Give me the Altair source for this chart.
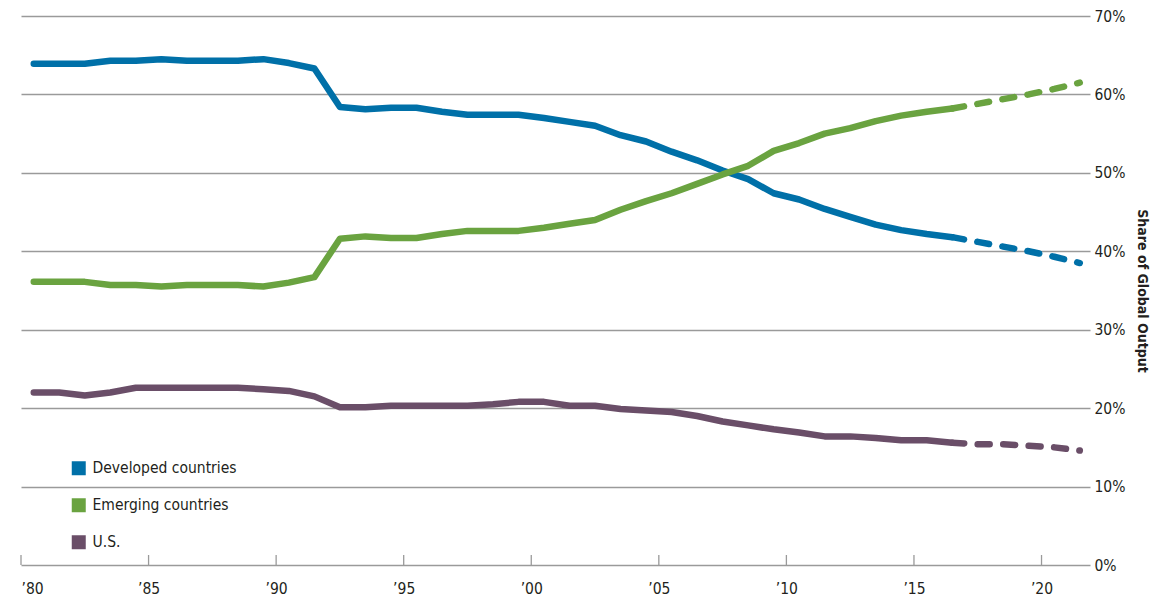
import altair as alt
import pandas as pd

years = list(range(1980, 2022))
developed = [63.9, 63.9, 63.9, 64.3, 64.3, 64.5, 64.3, 64.3, 64.3, 64.5,
             64.0, 63.3, 58.4, 58.1, 58.3, 58.3, 57.8, 57.4, 57.4, 57.4,
             57.0, 56.5, 56.0, 54.8, 54.0, 52.7, 51.6, 50.3, 49.2, 47.4,
             46.6, 45.4, 44.4, 43.4, 42.7, 42.2, 41.8, 41.2, 40.6, 40.0,
             39.3, 38.5]
emerging = [36.1, 36.1, 36.1, 35.7, 35.7, 35.5, 35.7, 35.7, 35.7, 35.5,
            36.0, 36.7, 41.6, 41.9, 41.7, 41.7, 42.2, 42.6, 42.6, 42.6,
            43.0, 43.5, 44.0, 45.3, 46.4, 47.4, 48.6, 49.8, 50.9, 52.8,
            53.8, 55.0, 55.7, 56.6, 57.3, 57.8, 58.2, 58.8, 59.4, 60.0,
            60.7, 61.5]
us = [22.0, 22.0, 21.6, 22.0, 22.6, 22.6, 22.6, 22.6, 22.6, 22.4,
      22.2, 21.5, 20.1, 20.1, 20.3, 20.3, 20.3, 20.3, 20.5, 20.8,
      20.8, 20.3, 20.3, 19.9, 19.7, 19.5, 19.0, 18.3, 17.8, 17.3,
      16.9, 16.4, 16.4, 16.2, 15.9, 15.9, 15.6, 15.4, 15.4, 15.2,
      15.0, 14.6]
series_names = ["Developed countries", "Emerging countries", "U.S."]
series_colors = ["#0070a8", "#6aa340", "#6a4e68"]
last_actual_year = 2016
tick_years = [1980, 1985, 1990, 1995, 2000, 2005, 2010, 2015, 2020]
y_ticks = [0, 10, 20, 30, 40, 50, 60, 70]

rows = []
for name, vals in zip(series_names, [developed, emerging, us]):
    for yr, v in zip(years, vals):
        rows.append({"year": yr, "series": name, "value": v})
df = pd.DataFrame(rows)
df["pos"] = df["year"] + 0.5
solid_df = df[df["year"] <= last_actual_year]
dash_df = df[df["year"] >= last_actual_year]
ticks_df = pd.DataFrame({"pos": tick_years})

FONT = "Liberation Sans Narrow, DejaVu Sans Condensed, Arial Narrow, sans-serif"
GRID = "#9a9a9a"
TEXT = "#231f20"

xscale = alt.Scale(domain=[1980, 2021.9], nice=False, zero=False)
yscale = alt.Scale(domain=[0, 70], nice=False)
cscale = alt.Scale(domain=series_names, range=series_colors)

x_axis = alt.Axis(values=tick_years, labelExpr="'\u2019' + substring(toString(datum.value), 2, 4)",
                  domain=False, ticks=False, tickSize=0, grid=False, title=None,
                  labelFont=FONT, labelFontSize=15.5, labelColor=TEXT, labelPadding=16)
y_axis = alt.Axis(orient="right", values=y_ticks, labelExpr="datum.value + '%'",
                  domain=False, ticks=False, tickSize=0, grid=True, gridColor=GRID,
                  gridWidth=1.3, labelFont=FONT, labelFontSize=15.5, labelColor=TEXT,
                  labelPadding=4, title="Share of Global Output", titleFont=FONT,
                  titleFontSize=14, titleFontWeight="bold", titleColor=TEXT,
                  titlePadding=10)
legend = alt.Legend(
    orient="none", legendX=50, legendY=444.5, title=None, symbolType="square",
    symbolSize=49, symbolStrokeWidth=7, symbolOpacity=1, labelFont=FONT,
    labelFontSize=15.5, labelColor=TEXT, labelOffset=6, rowPadding=1, padding=0)

X = alt.X("pos:Q", scale=xscale, axis=x_axis, title=None)
Y = alt.Y("value:Q", scale=yscale, axis=y_axis, title="Share of Global Output")
C = alt.Color("series:N", scale=cscale, legend=legend)

tick_rules = alt.Chart(ticks_df).mark_rule(color=GRID, strokeWidth=1.3).encode(
    x=X, y=alt.value(539), y2=alt.value(549))

solid = alt.Chart(solid_df).mark_line(strokeWidth=6.5, strokeCap="round", strokeJoin="round").encode(
    x=X, y=Y, color=C, detail="series:N")

dashed = alt.Chart(dash_df).mark_line(strokeWidth=6.5, strokeCap="round", strokeJoin="round",
                                      strokeDash=[12, 13.5]).encode(
    x=X, y=Y, color=C, detail="series:N")

chart = alt.layer(tick_rules, solid, dashed).properties(
    width=1069, height=549,
    background="white",
    autosize=alt.AutoSizeParams(type="none"),
    padding={"left": 21, "top": 16, "right": 74, "bottom": 40},
).configure_view(stroke=None)

chart.save("out.html", embed_options={"renderer": "svg", "actions": False})
